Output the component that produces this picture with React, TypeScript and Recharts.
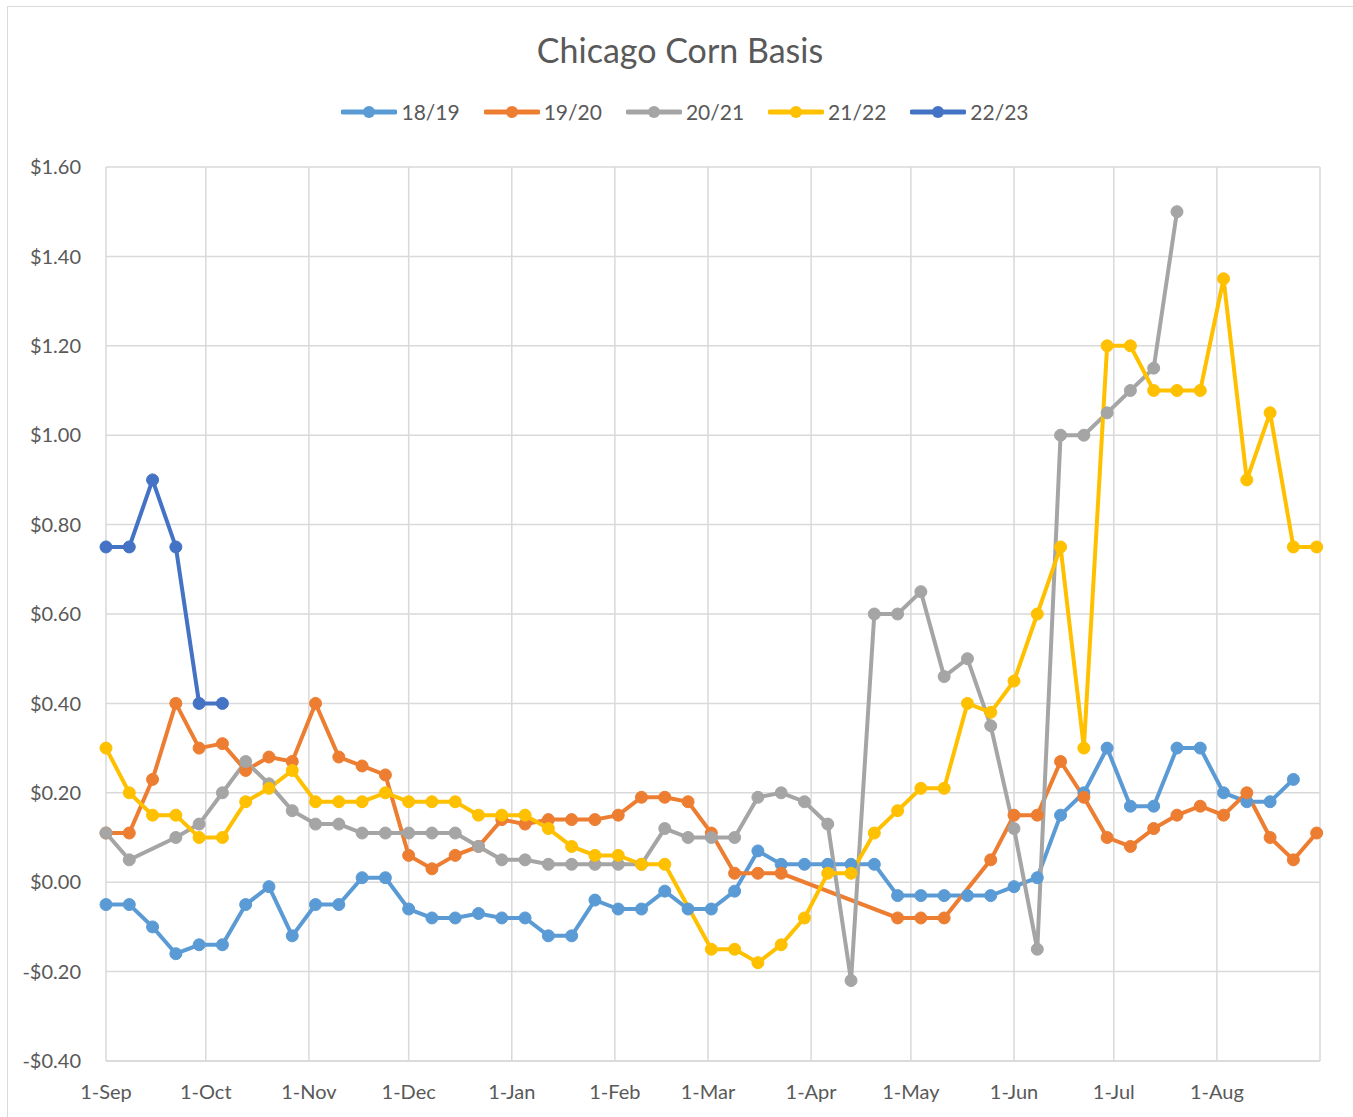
import { CartesianGrid, Line, LineChart, XAxis, YAxis } from 'recharts'

// weekly observations, week 0 = 1-Sep
const WEEK_COUNT = 53

const MONTH_TICKS = [0, 30, 61, 91, 122, 153, 181, 212, 242, 273, 303, 334, 365]
const MONTH_LABELS = ['1-Sep', '1-Oct', '1-Nov', '1-Dec', '1-Jan', '1-Feb', '1-Mar', '1-Apr', '1-May', '1-Jun', '1-Jul', '1-Aug', '']
const Y_TICKS = [-0.4, -0.2, 0, 0.2, 0.4, 0.6, 0.8, 1.0, 1.2, 1.4, 1.6]

const basis1819 = [
  -0.05, -0.05, -0.10, -0.16, -0.14, -0.14, -0.05, -0.01, -0.12, -0.05,
  -0.05, 0.01, 0.01, -0.06, -0.08, -0.08, -0.07, -0.08, -0.08, -0.12,
  -0.12, -0.04, -0.06, -0.06, -0.02, -0.06, -0.06, -0.02, 0.07, 0.04,
  0.04, 0.04, 0.04, 0.04, -0.03, -0.03, -0.03, -0.03, -0.03, -0.01,
  0.01, 0.15, 0.20, 0.30, 0.17, 0.17, 0.30, 0.30, 0.20, 0.18,
  0.18, 0.23, null,
]
const basis1920 = [
  0.11, 0.11, 0.23, 0.40, 0.30, 0.31, 0.25, 0.28, 0.27, 0.40,
  0.28, 0.26, 0.24, 0.06, 0.03, 0.06, 0.08, 0.14, 0.13, 0.14,
  0.14, 0.14, 0.15, 0.19, 0.19, 0.18, 0.11, 0.02, 0.02, 0.02,
  null, null, null, null, -0.08, -0.08, -0.08, null, 0.05, 0.15,
  0.15, 0.27, 0.19, 0.10, 0.08, 0.12, 0.15, 0.17, 0.15, 0.20,
  0.10, 0.05, 0.11,
]
const basis2021 = [
  0.11, 0.05, null, 0.10, 0.13, 0.20, 0.27, 0.22, 0.16, 0.13,
  0.13, 0.11, 0.11, 0.11, 0.11, 0.11, 0.08, 0.05, 0.05, 0.04,
  0.04, 0.04, 0.04, 0.04, 0.12, 0.10, 0.10, 0.10, 0.19, 0.20,
  0.18, 0.13, -0.22, 0.60, 0.60, 0.65, 0.46, 0.50, 0.35, 0.12,
  -0.15, 1.00, 1.00, 1.05, 1.10, 1.15, 1.50, null, null, null,
  null, null, null,
]
const basis2122 = [
  0.30, 0.20, 0.15, 0.15, 0.10, 0.10, 0.18, 0.21, 0.25, 0.18,
  0.18, 0.18, 0.20, 0.18, 0.18, 0.18, 0.15, 0.15, 0.15, 0.12,
  0.08, 0.06, 0.06, 0.04, 0.04, null, -0.15, -0.15, -0.18, -0.14,
  -0.08, 0.02, 0.02, 0.11, 0.16, 0.21, 0.21, 0.40, 0.38, 0.45,
  0.60, 0.75, 0.30, 1.20, 1.20, 1.10, 1.10, 1.10, 1.35, 0.90,
  1.05, 0.75, 0.75,
]
const basis2223 = [0.75, 0.75, 0.90, 0.75, 0.40, 0.40]

const SERIES = [
  { key: 's1819', name: '18/19', color: '#5B9BD5', values: basis1819 },
  { key: 's1920', name: '19/20', color: '#ED7D31', values: basis1920 },
  { key: 's2021', name: '20/21', color: '#A5A5A5', values: basis2021 },
  { key: 's2122', name: '21/22', color: '#FFC000', values: basis2122 },
  { key: 's2223', name: '22/23', color: '#4472C4', values: basis2223 },
]

const rows = Array.from({ length: WEEK_COUNT }, (_, i) => {
  const row: Record<string, number | null> = { day: i * 7 }
  SERIES.forEach((s) => {
    const v = s.values[i]
    row[s.key] = v === undefined ? null : v
  })
  return row
})

const FONT = 'Lato, "Open Sans", sans-serif'
const TEXT = '#595959'
const GRID = '#D9D9D9'

const fmtDollar = (v: number) => (v < 0 ? '-' : '') + '$' + Math.abs(v).toFixed(2)
const fmtMonth = (v: number) => MONTH_LABELS[MONTH_TICKS.indexOf(v)] ?? ''

function LegendRow() {
  return (
    <div
      style={{
        position: 'absolute', top: 100, left: 0, width: 1370,
        display: 'flex', justifyContent: 'center', gap: 24,
        fontFamily: FONT, fontSize: 21, color: TEXT, lineHeight: '24px',
      }}
    >
      {SERIES.map((s) => (
        <div key={s.key} style={{ display: 'flex', alignItems: 'center' }}>
          <svg width={56} height={14}>
            <line x1={2} y1={7} x2={54} y2={7} stroke={s.color} strokeWidth={5} strokeLinecap="round" />
            <circle cx={28} cy={7} r={6} fill={s.color} />
          </svg>
          <span style={{ marginLeft: 4 }}>{s.name}</span>
        </div>
      ))}
    </div>
  )
}

export default function App() {
  return (
    <div style={{ position: 'absolute', left: 0, top: 0, width: 1353, height: 1117, background: '#fff', overflow: 'hidden' }}>
      <div style={{ position: 'absolute', left: 7, top: 6, width: 1360, height: 1130, border: `1px solid ${GRID}` }} />
      <div
        style={{
          position: 'absolute', top: 29, left: 0, width: 1360, textAlign: 'center',
          fontFamily: FONT, fontSize: 34, color: TEXT, lineHeight: '42px',
        }}
      >
        Chicago Corn Basis
      </div>
      <LegendRow />
      <div style={{ position: 'absolute', left: 0, top: 0 }}>
        <LineChart width={1353} height={1117} data={rows} margin={{ top: 167, right: 33, bottom: 16, left: 0 }}>
          <CartesianGrid stroke={GRID} strokeWidth={1.5} />
          <XAxis
            dataKey="day"
            type="number"
            domain={[0, 365]}
            ticks={MONTH_TICKS}
            tickFormatter={fmtMonth}
            interval={0}
            height={40}
            axisLine={{ stroke: GRID, strokeWidth: 1.5 }}
            tickLine={false}
            tickMargin={18}
            tick={{ fill: TEXT, fontSize: 20, fontFamily: FONT }}
          />
          <YAxis
            type="number"
            domain={[-0.4, 1.6]}
            ticks={Y_TICKS}
            tickFormatter={fmtDollar}
            width={106}
            axisLine={false}
            tickLine={false}
            tickMargin={19}
            tick={{ fill: TEXT, fontSize: 20, fontFamily: FONT }}
          />
          {SERIES.map((s) => (
            <Line
              key={s.key}
              dataKey={s.key}
              name={s.name}
              stroke={s.color}
              strokeWidth={4}
              connectNulls
              dot={{ r: 6, fill: s.color, stroke: s.color, strokeWidth: 1 }}
              activeDot={false}
              isAnimationActive={false}
            />
          ))}
        </LineChart>
      </div>
    </div>
  )
}
